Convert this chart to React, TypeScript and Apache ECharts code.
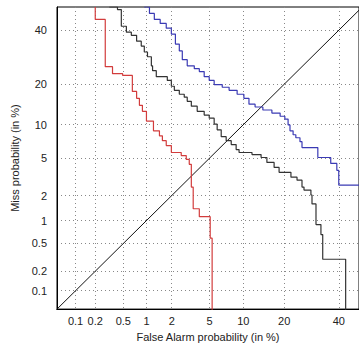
import React, { useEffect, useRef } from "react";
import * as echarts from "echarts";

// Tick labels (percent) shared by both probit axes
const tickLabels = [0.1, 0.2, 0.5, 1, 2, 5, 10, 20, 40];
const axisMinPct = 0.05;
const xMaxPct = 48.6;
const yMaxPct = 50;

// [False Alarm %, Miss %] step vertices
const redCurve = [
  [0.2, 50], [0.2, 44.6], [0.28, 25.8], [0.355, 23.4], [0.49, 22.8], [0.66, 17.9],
  [0.75, 16.0], [0.815, 14.2], [0.89, 12.8], [1.0, 10.7], [1.22, 8.87], [1.44, 8.03],
  [1.56, 7.27], [1.73, 6.56], [1.98, 5.65], [2.55, 5.28], [2.89, 4.84], [3.11, 4.33],
  [3.27, 2.49], [3.42, 1.4], [3.95, 1.12], [5.06, 0.59], [5.28, 0.04],
];

const blackCurve = [
  [0.32, 50], [0.416, 48.9], [0.47, 41.7], [0.55, 39.2], [0.64, 37.9], [0.75, 35.5],
  [0.86, 33.5], [0.94, 31.2], [1.03, 29.4], [1.15, 26.1], [1.19, 24.4], [1.32, 22.4],
  [1.78, 21.2], [1.98, 19.4], [2.14, 18.2], [2.43, 17.1], [2.75, 16.3], [2.96, 15.2],
  [3.27, 14.0], [3.76, 12.8], [4.42, 11.96], [4.95, 11.3], [5.52, 10.1], [5.89, 9.04],
  [6.42, 7.89], [7.12, 7.27], [7.89, 6.7], [8.7, 6.02], [9.21, 5.65], [11.73, 5.4],
  [13.77, 5.06], [15.2, 4.52], [17.1, 4.03], [18.5, 3.59], [22.1, 3.19], [24.1, 2.96],
  [25.8, 2.49], [26.5, 2.31], [29.0, 2.03], [29.4, 1.6], [30.9, 0.89], [32.8, 0.66],
  [33.5, 0.3], [42.9, 0.04],
];

const blueCurve = [
  [0.94, 50], [1.09, 47.2], [1.25, 44.6], [1.47, 42.9], [1.73, 40.9], [1.98, 38.4],
  [2.2, 34.3], [2.43, 31.6], [2.62, 28.3], [2.96, 26.1], [3.51, 25.1], [3.95, 24.1],
  [4.42, 22.4], [4.95, 21.2], [5.52, 19.9], [6.56, 19.1], [7.56, 18.2], [8.87, 17.1],
  [10.1, 16.0], [11.1, 14.5], [12.4, 13.8], [14.2, 13.1], [16.5, 12.4], [18.8, 11.7],
  [20.2, 11.1], [21.2, 9.94], [21.8, 8.87], [22.8, 8.2], [23.7, 7.72], [25.1, 7.12],
  [25.8, 6.28], [31.6, 5.06], [36.7, 4.42], [39.2, 3.76], [40.0, 2.62], [50, 2.62],
];

const diagonalLine = [[0.04, 0.04], [50, 50]];

// inverse normal CDF (Acklam)
function probit(p: number): number {
  const a = [-3.969683028665376e1, 2.209460984245205e2, -2.759285104469687e2, 1.38357751867269e2, -3.066479806614716e1, 2.506628277459239];
  const b = [-5.447609879822406e1, 1.615858368580409e2, -1.556989798598866e2, 6.680131188771972e1, -1.328068155288572e1];
  const c = [-7.784894002430293e-3, -3.223964580411365e-1, -2.400758277161838, -2.549732539343734, 4.374664141464968, 2.938163982698783];
  const d = [7.784695709041462e-3, 3.224671290700398e-1, 2.445134137142996, 3.754408661907416];
  const plow = 0.02425;
  if (p < plow) {
    const q = Math.sqrt(-2 * Math.log(p));
    return (((((c[0] * q + c[1]) * q + c[2]) * q + c[3]) * q + c[4]) * q + c[5]) /
      ((((d[0] * q + d[1]) * q + d[2]) * q + d[3]) * q + 1);
  } else if (p <= 1 - plow) {
    const q = p - 0.5;
    const r = q * q;
    return ((((((a[0] * r + a[1]) * r + a[2]) * r + a[3]) * r + a[4]) * r + a[5]) * q) /
      (((((b[0] * r + b[1]) * r + b[2]) * r + b[3]) * r + b[4]) * r + 1);
  }
  const q = Math.sqrt(-2 * Math.log(1 - p));
  return -(((((c[0] * q + c[1]) * q + c[2]) * q + c[3]) * q + c[4]) * q + c[5]) /
    ((((d[0] * q + d[1]) * q + d[2]) * q + d[3]) * q + 1);
}

const toZ = (pct: number) => probit(pct / 100);
const tickZ = tickLabels.map(toZ);
const fmt = (v: number) => {
  let best = 0;
  for (let i = 1; i < tickZ.length; i++) {
    if (Math.abs(tickZ[i] - v) < Math.abs(tickZ[best] - v)) best = i;
  }
  return String(tickLabels[best]);
};
const transform = (pts: number[][]) => pts.map(([x, y]) => [toZ(x), toZ(y)]);

const FONT = "'Liberation Sans', Arial, sans-serif";

export default function App() {
  const ref = useRef<HTMLDivElement>(null);
  useEffect(() => {
    if (!ref.current) return;
    const chart = echarts.init(ref.current, null, { renderer: "svg" });
    const axisCommon = {
      type: "value" as const,
      axisLine: { show: true, onZero: false, lineStyle: { color: "#000", width: 1 } },
      axisTick: { show: false, customValues: tickZ },
      axisLabel: { customValues: tickZ, formatter: fmt, color: "#222", fontSize: 11, fontFamily: FONT },
      splitLine: { show: true, lineStyle: { color: "#888", width: 1, type: [1, 3] } },
      nameLocation: "middle" as const,
      nameTextStyle: { color: "#222", fontSize: 11, fontFamily: FONT },
    };
    chart.setOption({
      animation: false,
      backgroundColor: "#fff",
      grid: { left: 57, top: 7, right: -1, bottom: 34, show: true, borderColor: "#000", borderWidth: 1 },
      xAxis: {
        ...axisCommon,
        min: toZ(axisMinPct),
        max: toZ(xMaxPct),
        name: "False Alarm probability (in %)",
        nameGap: 20,
        axisLabel: { ...axisCommon.axisLabel, margin: 6 },
      },
      yAxis: {
        ...axisCommon,
        min: toZ(axisMinPct),
        max: toZ(yMaxPct),
        name: "Miss probability (in %)",
        nameGap: 37,
        axisLabel: { ...axisCommon.axisLabel, margin: 10 },
      },
      series: [
        { type: "line", data: transform(diagonalLine), symbol: "none", lineStyle: { color: "#111", width: 1 }, clip: true },
        { type: "line", step: "end", data: transform(redCurve), symbol: "none", lineStyle: { color: "#d23c3c", width: 1.2 }, clip: true },
        { type: "line", step: "end", data: transform(blackCurve), symbol: "none", lineStyle: { color: "#333", width: 1.2 }, clip: true },
        { type: "line", step: "end", data: transform(blueCurve), symbol: "none", lineStyle: { color: "#3a3ab4", width: 1.2 }, clip: true },
      ],
    });
    return () => chart.dispose();
  }, []);
  return (
    <div
      ref={ref}
      style={{ position: "fixed", left: 0, top: 0, width: 359, height: 347, background: "#fff" }}
    />
  );
}
